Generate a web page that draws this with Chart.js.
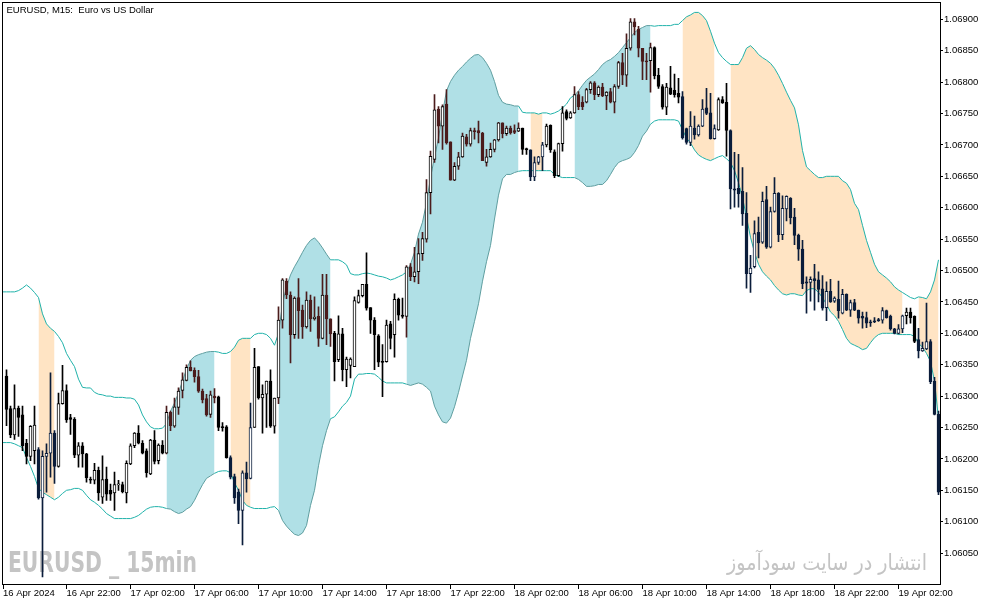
<!DOCTYPE html>
<html>
<head>
<meta charset="utf-8">
<title>EURUSD M15</title>
<script src="https://cdn.jsdelivr.net/npm/chart.js@4.4.1/dist/chart.umd.min.js"></script>
<style>
  html, body { margin: 0; padding: 0; background: #fff; }
  canvas { display: block; }
</style>
</head>
<body>
<canvas id="chart" width="994" height="605"></canvas>
<script>
// bar 0 = 16 Apr 2024 18:00, one bar every 15 minutes
let tickBars = [0.125, 16, 32, 48, 64, 80, 96, 112, 128, 144, 160, 176, 192, 208, 224];
let tickLabels = ['16 Apr 2024', '16 Apr 22:00', '17 Apr 02:00', '17 Apr 06:00', '17 Apr 10:00',
    '17 Apr 14:00', '17 Apr 18:00', '17 Apr 22:00', '18 Apr 02:00', '18 Apr 06:00',
    '18 Apr 10:00', '18 Apr 14:00', '18 Apr 18:00', '18 Apr 22:00', '19 Apr 02:00'];
let priceTicks = [1.0605, 1.061, 1.0615, 1.062, 1.0625, 1.063, 1.0635, 1.064, 1.0645,
    1.065, 1.0655, 1.066, 1.0665, 1.067, 1.0675, 1.068, 1.0685, 1.069];

let opens = [null,
1.06332,1.06280,1.06238,1.06281,1.06270,1.06225,1.06204,1.06213,1.06215,1.06138,
1.06204,1.06209,1.06241,1.06188,1.06288,1.06309,1.06266,1.06263,1.06206,1.06221,
1.06208,1.06168,1.06166,1.06182,1.06139,1.06168,1.06150,1.06146,1.06159,1.06159,
1.06146,1.06192,1.06221,1.06241,1.06225,1.06213,1.06176,1.06230,1.06197,1.06222,
1.06209,1.06274,1.06252,1.06282,1.06309,1.06325,1.06346,1.06341,1.06331,1.06308,
1.06296,1.06271,1.06300,1.06299,1.06251,1.06251,1.06202,1.06172,1.06147,1.06118,
1.06178,1.06169,1.06250,1.06347,1.06297,1.06303,1.06324,1.06252,1.06297,1.06421,
1.06483,1.06461,1.06398,1.06457,1.06437,1.06410,1.06453,1.06423,1.06427,1.06392,
1.06461,1.06423,1.06400,1.06358,1.06399,1.06342,1.06349,1.06347,1.06449,1.06460,
1.06478,1.06441,1.06421,1.06396,1.06355,1.06355,1.06415,1.06398,1.06454,1.06429,
1.06427,1.06506,1.06490,1.06498,1.06527,1.06550,1.06624,1.06677,1.06757,1.06730,
1.06765,1.06705,1.06644,1.06666,1.06681,1.06713,1.06701,1.06723,1.06723,1.06719,
1.06672,1.06681,1.06693,1.06708,1.06735,1.06718,1.06727,1.06723,1.06722,1.06727,
1.06694,1.06692,1.06649,1.06672,1.06681,1.06700,1.06731,1.06689,1.06651,1.06702,
1.06753,1.06743,1.06751,1.06780,1.06768,1.06768,1.06788,1.06799,1.06780,1.06792,
1.06778,1.06785,1.06768,1.06793,1.06831,1.06811,1.06854,1.06896,1.06884,1.06854,
1.06834,1.06834,1.06855,1.06811,1.06793,1.06760,1.06791,1.06787,1.06782,1.06777,
1.06726,1.06704,1.06727,1.06716,1.06730,1.06759,1.06751,1.06710,1.06724,1.06772,
1.06768,1.06723,1.06630,1.06631,1.06626,1.06591,1.06495,1.06506,1.06561,1.06545,
1.06613,1.06537,1.06594,1.06623,1.06557,1.06598,1.06615,1.06585,1.06556,1.06534,
1.06482,1.06481,1.06487,1.06485,1.06471,1.06441,1.06467,1.06451,1.06454,1.06432,
1.06462,1.06437,1.06449,1.06437,1.06427,1.06425,1.06418,1.06420,1.06422,1.06421,
1.06436,1.06427,1.06407,1.06400,1.06407,1.06428,1.06434,1.06427,1.06390,1.06372,
1.06375,1.06387,1.06324,1.06271];

let highs = [null,
1.06342,1.06284,1.06318,1.06284,1.06284,1.06231,1.06253,1.06284,1.06218,1.06213,
1.06224,1.06337,1.06245,1.06305,1.06349,1.06318,1.06271,1.06266,1.06226,1.06226,
1.06209,1.06171,1.06193,1.06187,1.06205,1.06187,1.06160,1.06179,1.06166,1.06163,
1.06197,1.06224,1.06242,1.06253,1.06229,1.06216,1.06231,1.06245,1.06224,1.06229,
1.06284,1.06276,1.06297,1.06313,1.06337,1.06350,1.06356,1.06345,1.06341,1.06311,
1.06303,1.06308,1.06312,1.06300,1.06258,1.06253,1.06205,1.06176,1.06152,1.06181,
1.06195,1.06289,1.06376,1.06347,1.06318,1.06324,1.06342,1.06297,1.06442,1.06487,
1.06487,1.06466,1.06458,1.06487,1.06445,1.06466,1.06461,1.06458,1.06442,1.06494,
1.06494,1.06423,1.06403,1.06428,1.06408,1.06362,1.06361,1.06458,1.06469,1.06478,
1.06528,1.06441,1.06425,1.06398,1.06382,1.06421,1.06419,1.06463,1.06456,1.06456,
1.06508,1.06511,1.06537,1.06551,1.06561,1.06645,1.06690,1.06780,1.06761,1.06764,
1.06788,1.06705,1.06672,1.06688,1.06719,1.06717,1.06727,1.06727,1.06738,1.06720,
1.06693,1.06703,1.06709,1.06736,1.06735,1.06730,1.06730,1.06732,1.06735,1.06727,
1.06695,1.06692,1.06681,1.06682,1.06704,1.06733,1.06732,1.06692,1.06703,1.06761,
1.06756,1.06753,1.06793,1.06785,1.06777,1.06790,1.06801,1.06801,1.06794,1.06798,
1.06785,1.06790,1.06796,1.06833,1.06846,1.06877,1.06901,1.06901,1.06889,1.06854,
1.06846,1.06862,1.06856,1.06822,1.06796,1.06798,1.06825,1.06813,1.06806,1.06785,
1.06727,1.06753,1.06746,1.06732,1.06772,1.06790,1.06782,1.06732,1.06775,1.06777,
1.06798,1.06724,1.06688,1.06685,1.06664,1.06624,1.06524,1.06579,1.06585,1.06625,
1.06634,1.06601,1.06648,1.06624,1.06619,1.06619,1.06616,1.06599,1.06558,1.06548,
1.06490,1.06490,1.06510,1.06498,1.06492,1.06482,1.06486,1.06458,1.06483,1.06470,
1.06463,1.06453,1.06454,1.06437,1.06434,1.06434,1.06421,1.06425,1.06424,1.06441,
1.06437,1.06429,1.06408,1.06414,1.06429,1.06440,1.06440,1.06428,1.06408,1.06386,
1.06448,1.06390,1.06330,1.06276];

let lows = [null,
1.06253,1.06234,1.06231,1.06236,1.06213,1.06192,1.06197,1.06192,1.06136,1.06012,
1.06147,1.06171,1.06161,1.06187,1.06287,1.06258,1.06239,1.06202,1.06187,1.06187,
1.06163,1.06161,1.06160,1.06134,1.06129,1.06134,1.06134,1.06118,1.06150,1.06146,
1.06130,1.06191,1.06218,1.06224,1.06208,1.06171,1.06175,1.06192,1.06192,1.06208,
1.06208,1.06245,1.06250,1.06271,1.06297,1.06324,1.06340,1.06322,1.06306,1.06289,
1.06268,1.06266,1.06289,1.06245,1.06244,1.06201,1.06168,1.06129,1.06097,1.06063,
1.06147,1.06168,1.06250,1.06295,1.06241,1.06250,1.06250,1.06241,1.06288,1.06408,
1.06455,1.06353,1.06392,1.06392,1.06392,1.06408,1.06403,1.06421,1.06379,1.06391,
1.06382,1.06379,1.06324,1.06355,1.06324,1.06315,1.06329,1.06347,1.06448,1.06458,
1.06437,1.06400,1.06342,1.06347,1.06299,1.06354,1.06375,1.06362,1.06421,1.06424,
1.06394,1.06484,1.06482,1.06479,1.06516,1.06545,1.06590,1.06672,1.06703,1.06693,
1.06701,1.06644,1.06643,1.06661,1.06680,1.06698,1.06698,1.06709,1.06703,1.06675,
1.06666,1.06680,1.06689,1.06706,1.06711,1.06715,1.06717,1.06718,1.06721,1.06685,
1.06685,1.06643,1.06643,1.06669,1.06659,1.06697,1.06688,1.06648,1.06650,1.06690,
1.06740,1.06742,1.06750,1.06756,1.06756,1.06767,1.06782,1.06772,1.06777,1.06777,
1.06756,1.06767,1.06751,1.06790,1.06796,1.06793,1.06851,1.06875,1.06840,1.06804,
1.06804,1.06784,1.06805,1.06790,1.06757,1.06748,1.06780,1.06776,1.06767,1.06709,
1.06701,1.06699,1.06709,1.06714,1.06729,1.06748,1.06709,1.06709,1.06723,1.06766,
1.06682,1.06598,1.06601,1.06601,1.06572,1.06472,1.06465,1.06504,1.06520,1.06543,
1.06535,1.06536,1.06593,1.06546,1.06549,1.06579,1.06574,1.06541,1.06516,1.06471,
1.06432,1.06451,1.06437,1.06450,1.06437,1.06420,1.06449,1.06449,1.06424,1.06431,
1.06436,1.06427,1.06436,1.06416,1.06408,1.06409,1.06411,1.06417,1.06419,1.06416,
1.06424,1.06405,1.06399,1.06399,1.06401,1.06415,1.06416,1.06385,1.06361,1.06371,
1.06374,1.06320,1.06270,1.06143];

let closes = [null,
1.06279,1.06238,1.06280,1.06266,1.06221,1.06204,1.06252,1.06254,1.06138,1.06204,
1.06209,1.06241,1.06188,1.06288,1.06309,1.06262,1.06263,1.06206,1.06221,1.06208,
1.06170,1.06166,1.06182,1.06146,1.06167,1.06144,1.06144,1.06159,1.06160,1.06148,
1.06193,1.06221,1.06241,1.06225,1.06209,1.06178,1.06230,1.06196,1.06222,1.06209,
1.06274,1.06253,1.06283,1.06308,1.06326,1.06346,1.06340,1.06331,1.06308,1.06294,
1.06270,1.06302,1.06297,1.06250,1.06250,1.06202,1.06171,1.06138,1.06118,1.06178,
1.06168,1.06250,1.06346,1.06297,1.06303,1.06324,1.06252,1.06297,1.06421,1.06485,
1.06461,1.06398,1.06456,1.06436,1.06410,1.06453,1.06423,1.06426,1.06392,1.06461,
1.06423,1.06399,1.06355,1.06399,1.06342,1.06359,1.06359,1.06452,1.06460,1.06478,
1.06440,1.06421,1.06398,1.06354,1.06354,1.06413,1.06392,1.06454,1.06429,1.06427,
1.06506,1.06490,1.06498,1.06527,1.06551,1.06624,1.06682,1.06756,1.06730,1.06761,
1.06703,1.06644,1.06666,1.06681,1.06714,1.06701,1.06723,1.06721,1.06719,1.06675,
1.06681,1.06693,1.06708,1.06735,1.06718,1.06727,1.06719,1.06720,1.06727,1.06693,
1.06692,1.06649,1.06672,1.06681,1.06700,1.06730,1.06692,1.06651,1.06702,1.06751,
1.06742,1.06751,1.06780,1.06761,1.06761,1.06788,1.06799,1.06780,1.06792,1.06778,
1.06784,1.06768,1.06793,1.06831,1.06811,1.06854,1.06896,1.06888,1.06854,1.06833,
1.06832,1.06855,1.06810,1.06793,1.06760,1.06792,1.06781,1.06780,1.06776,1.06711,
1.06704,1.06730,1.06716,1.06730,1.06757,1.06750,1.06710,1.06726,1.06772,1.06767,
1.06723,1.06630,1.06628,1.06622,1.06590,1.06495,1.06504,1.06559,1.06544,1.06610,
1.06537,1.06594,1.06623,1.06557,1.06599,1.06618,1.06584,1.06556,1.06534,1.06479,
1.06480,1.06486,1.06484,1.06470,1.06440,1.06467,1.06450,1.06456,1.06436,1.06462,
1.06437,1.06449,1.06437,1.06424,1.06424,1.06416,1.06417,1.06418,1.06420,1.06436,
1.06425,1.06407,1.06400,1.06407,1.06428,1.06434,1.06425,1.06387,1.06372,1.06376,
1.06387,1.06323,1.06271,1.06147];

let upperBand = [
1.06466,1.06466,1.06466,1.06466,1.06468,1.06472,1.06477,1.06472,1.06465,1.06457,
1.06431,1.06415,1.06408,1.06403,1.06395,1.06385,1.06368,1.06357,1.06347,1.06327,
1.06314,1.06313,1.06313,1.06306,1.06303,1.06302,1.06300,1.06300,1.06298,1.06298,
1.06298,1.06297,1.06297,1.06295,1.06286,1.06270,1.06259,1.06251,1.06248,1.06248,
1.06249,1.06256,1.06276,1.06289,1.06305,1.06324,1.06343,1.06357,1.06363,1.06366,
1.06368,1.06370,1.06371,1.06371,1.06370,1.06368,1.06368,1.06371,1.06378,1.06389,
1.06392,1.06392,1.06392,1.06398,1.06400,1.06400,1.06398,1.06392,1.06381,1.06400,
1.06447,1.06474,1.06493,1.06506,1.06517,1.06529,1.06540,1.06548,1.06552,1.06545,
1.06536,1.06526,1.06517,1.06517,1.06517,1.06514,1.06509,1.06495,1.06493,1.06493,
1.06495,1.06496,1.06495,1.06493,1.06491,1.06490,1.06488,1.06485,1.06487,1.06490,
1.06493,1.06498,1.06510,1.06529,1.06558,1.06577,1.06608,1.06648,1.06680,1.06711,
1.06751,1.06786,1.06801,1.06811,1.06819,1.06825,1.06832,1.06838,1.06843,1.06844,
1.06839,1.06830,1.06819,1.06801,1.06779,1.06768,1.06765,1.06764,1.06762,1.06762,
1.06752,1.06751,1.06751,1.06751,1.06749,1.06751,1.06751,1.06749,1.06751,1.06754,
1.06759,1.06765,1.06775,1.06779,1.06786,1.06795,1.06803,1.06808,1.06813,1.06820,
1.06828,1.06833,1.06836,1.06841,1.06847,1.06855,1.06863,1.06871,1.06879,1.06884,
1.06887,1.06890,1.06890,1.06889,1.06890,1.06890,1.06890,1.06890,1.06892,1.06892,
1.06898,1.06904,1.06907,1.06911,1.06911,1.06906,1.06898,1.06881,1.06862,1.06847,
1.06839,1.06833,1.06828,1.06828,1.06828,1.06839,1.06854,1.06858,1.06852,1.06844,
1.06839,1.06835,1.06830,1.06822,1.06811,1.06798,1.06784,1.06771,1.06759,1.06732,
1.06691,1.06665,1.06659,1.06653,1.06648,1.06648,1.06650,1.06650,1.06650,1.06650,
1.06643,1.06639,1.06629,1.06607,1.06597,1.06572,1.06548,1.06529,1.06510,1.06498,
1.06493,1.06488,1.06482,1.06474,1.06469,1.06465,1.06461,1.06457,1.06455,1.06458,
1.06457,1.06455,1.06466,1.06485,1.06517];

let lowerBand = [
1.06226,1.06226,1.06226,1.06224,1.06221,1.06218,1.06202,1.06188,1.06172,1.06153,
1.06147,1.06143,1.06139,1.06135,1.06139,1.06145,1.06150,1.06151,1.06153,1.06153,
1.06150,1.06142,1.06135,1.06131,1.06126,1.06120,1.06113,1.06109,1.06105,1.06105,
1.06105,1.06105,1.06105,1.06107,1.06110,1.06115,1.06120,1.06123,1.06124,1.06124,
1.06123,1.06121,1.06120,1.06116,1.06113,1.06115,1.06120,1.06124,1.06134,1.06147,
1.06159,1.06169,1.06173,1.06177,1.06180,1.06181,1.06181,1.06178,1.06162,1.06150,
1.06134,1.06126,1.06123,1.06121,1.06121,1.06121,1.06121,1.06123,1.06124,1.06118,
1.06102,1.06093,1.06086,1.06080,1.06078,1.06082,1.06094,1.06126,1.06150,1.06189,
1.06221,1.06245,1.06264,1.06267,1.06275,1.06284,1.06290,1.06300,1.06327,1.06335,
1.06335,1.06336,1.06336,1.06335,1.06330,1.06324,1.06321,1.06321,1.06321,1.06321,
1.06321,1.06319,1.06317,1.06319,1.06321,1.06319,1.06314,1.06308,1.06284,1.06270,
1.06259,1.06257,1.06265,1.06283,1.06306,1.06332,1.06357,1.06392,1.06419,1.06447,
1.06483,1.06514,1.06540,1.06582,1.06620,1.06646,1.06653,1.06653,1.06656,1.06658,
1.06659,1.06659,1.06659,1.06659,1.06659,1.06659,1.06659,1.06659,1.06653,1.06650,
1.06648,1.06648,1.06648,1.06648,1.06645,1.06640,1.06634,1.06634,1.06635,1.06637,
1.06637,1.06643,1.06653,1.06664,1.06672,1.06675,1.06677,1.06680,1.06688,1.06699,
1.06714,1.06722,1.06733,1.06738,1.06740,1.06740,1.06740,1.06740,1.06740,1.06738,
1.06724,1.06711,1.06703,1.06692,1.06684,1.06680,1.06677,1.06675,1.06678,1.06681,
1.06683,1.06678,1.06672,1.06659,1.06640,1.06616,1.06585,1.06553,1.06529,1.06510,
1.06498,1.06491,1.06485,1.06476,1.06469,1.06463,1.06461,1.06463,1.06463,1.06461,
1.06460,1.06468,1.06471,1.06471,1.06465,1.06457,1.06446,1.06434,1.06428,1.06419,
1.06406,1.06392,1.06384,1.06381,1.06378,1.06374,1.06376,1.06385,1.06393,1.06398,
1.06400,1.06400,1.06400,1.06400,1.06398,1.06398,1.06398,1.06398,1.06395,1.06384,
1.06378,1.06368,1.06355,1.06324,1.06264];

// shaded stretches between the bands, as [first bar, last bar]
let blueZones = [[41, 53], [69, 82], [101, 129], [143, 162]];
let orangeZones = [[9, 13], [57, 62], [132, 135], [170, 178], [182, 225], [229, 234]];

let chartTitle = 'EURUSD, M15:  Euro vs US Dollar';
let symbolMark = 'EURUSD _ 15min';
let siteMark = 'انتشار در سایت سودآموز';

const TEAL = '#20b2aa';
const CADET = '#5f9ea0';
const BLUE_FILL = 'rgb(176, 224, 230)';
const ORANGE_FILL = 'rgb(255, 228, 196)';
const INK = ['#000000', '#4b1c1c', '#0b1d3b'];      // white / blue / orange zone
const OUTLINE = ['#000000', '#000000', '#0b1d3b'];

let zone_of = function(k) {
    for (let z of blueZones) if (k >= z[0] && k <= z[1]) return 1;
    for (let z of orangeZones) if (k >= z[0] && k <= z[1]) return 2;
    return 0;
};

let datasets = [];

// fills between the bands, one pair per zone
let add_fill = function(zones, colour) {
    for (let z of zones) {
        let upper = [], lower = [];
        for (let k = z[0]; k <= z[1]; k++) {
            upper.push({x: k, y: upperBand[k]});
            lower.push({x: k, y: lowerBand[k]});
        }
        datasets.push({type: 'line', data: upper, borderColor: 'rgba(0,0,0,0)', borderWidth: 1,
            pointRadius: 0, fill: '+1', backgroundColor: colour, order: 30});
        datasets.push({type: 'line', data: lower, borderColor: 'rgba(0,0,0,0)', borderWidth: 1,
            pointRadius: 0, fill: false, order: 30});
    }
};
add_fill(blueZones, BLUE_FILL);
add_fill(orangeZones, ORANGE_FILL);

// band lines
let band_segment = {
    borderColor: c => (zone_of(c.p0DataIndex) === 1 && zone_of(c.p1DataIndex) === 1) ? CADET : TEAL
};
[upperBand, lowerBand].forEach(band => {
    datasets.push({type: 'line', data: band.map((v, k) => ({x: k, y: v})), borderColor: TEAL,
        borderWidth: 1, pointRadius: 0, fill: false, tension: 0, segment: band_segment, order: 20});
});

// candles: wick then body
let wicks = [], wickColours = [], bodies = [], bodyFill = [], bodyEdge = [];
for (let k = 0; k < opens.length; k++) {
    if (opens[k] === null) continue;
    let z = zone_of(k);
    let up = closes[k] > opens[k];
    wicks.push({x: k, y: [lows[k], highs[k]]});
    wickColours.push(INK[z]);
    let lo = Math.min(opens[k], closes[k]), hi = Math.max(opens[k], closes[k]);
    if (hi - lo < 0.000012) { let m = (hi + lo) / 2; lo = m - 0.000008; hi = m + 0.000008; }
    bodies.push({x: k, y: [lo, hi]});
    bodyFill.push(up ? '#ffffff' : INK[z]);
    bodyEdge.push(up ? OUTLINE[z] : INK[z]);
}
datasets.push({type: 'bar', data: wicks, barThickness: 1, backgroundColor: wickColours,
    borderWidth: 0, grouped: false, order: 10});
datasets.push({type: 'bar', data: bodies, barThickness: 3, backgroundColor: bodyFill,
    borderColor: bodyEdge, borderWidth: 1, borderSkipped: false, grouped: false, order: 0});

let marks_plugin = {
    id: 'marks',
    beforeDatasetsDraw(chart) {
        let ctx = chart.ctx;
        ctx.save();
        ctx.fillStyle = '#c4c4c4';
        ctx.textBaseline = 'alphabetic';
        ctx.textAlign = 'left';
        ctx.font = "bold 28px 'Liberation Sans Narrow', 'DejaVu Sans Condensed', sans-serif";
        let w = ctx.measureText(symbolMark).width;
        ctx.translate(8, 572);
        ctx.scale(189 / w, 1);
        ctx.fillText(symbolMark, 0, 0);
        ctx.restore();

        ctx.save();
        ctx.fillStyle = '#c4c4c4';
        ctx.textBaseline = 'alphabetic';
        ctx.textAlign = 'right';
        ctx.direction = 'rtl';
        ctx.font = "22px 'DejaVu Sans', sans-serif";
        w = ctx.measureText(siteMark).width;
        ctx.translate(927, 570);
        ctx.scale(200 / w, 1);
        ctx.fillText(siteMark, 0, 0);
        ctx.restore();
    },
    afterDraw(chart) {
        let ctx = chart.ctx;
        ctx.save();
        ctx.strokeStyle = '#000';
        ctx.lineWidth = 1;
        ctx.strokeRect(2.5, 2.5, 938, 582);
        ctx.fillStyle = '#000';
        ctx.font = "9.5px 'Liberation Sans', sans-serif";
        ctx.textBaseline = 'alphabetic';
        ctx.fillText(chartTitle, 6.5, 13);
        ctx.restore();
    }
};

Chart.defaults.font.family = "'Liberation Sans', Arial, sans-serif";

let chart = new Chart(document.getElementById('chart').getContext('2d'), {
    type: 'line',
    data: {datasets: datasets},
    options: {
        responsive: false,
        animation: false,
        events: [],
        layout: {padding: {left: 3, top: 3, right: 0, bottom: 0}},
        plugins: {legend: {display: false}, tooltip: {enabled: false}},
        scales: {
            x: {
                type: 'linear', min: 0.125, max: 234.375, offset: false,
                grid: {drawOnChartArea: false, drawTicks: true, tickLength: 5, color: '#000', offset: false},
                border: {display: false},
                afterBuildTicks: s => { s.ticks = tickBars.map(v => ({value: v})); },
                afterFit: s => { s.height = 21; },
                ticks: {autoSkip: false, maxRotation: 0, minRotation: 0, align: 'start', padding: 0,
                    color: '#000', font: {size: 9.5, lineHeight: 1}, callback: (v, i) => tickLabels[i]}
            },
            y: {
                type: 'linear', position: 'right', min: 1.060008, max: 1.069201, beginAtZero: false,
                grid: {drawOnChartArea: false, drawTicks: true, tickLength: 3, color: '#000'},
                border: {display: false},
                afterBuildTicks: s => { s.ticks = priceTicks.map(v => ({value: v})); },
                afterFit: s => { s.width = 54; },
                ticks: {padding: 1, color: '#000', font: {size: 9.5}, callback: v => v.toFixed(5)}
            }
        }
    },
    plugins: [marks_plugin]
});
</script>
</body>
</html>
